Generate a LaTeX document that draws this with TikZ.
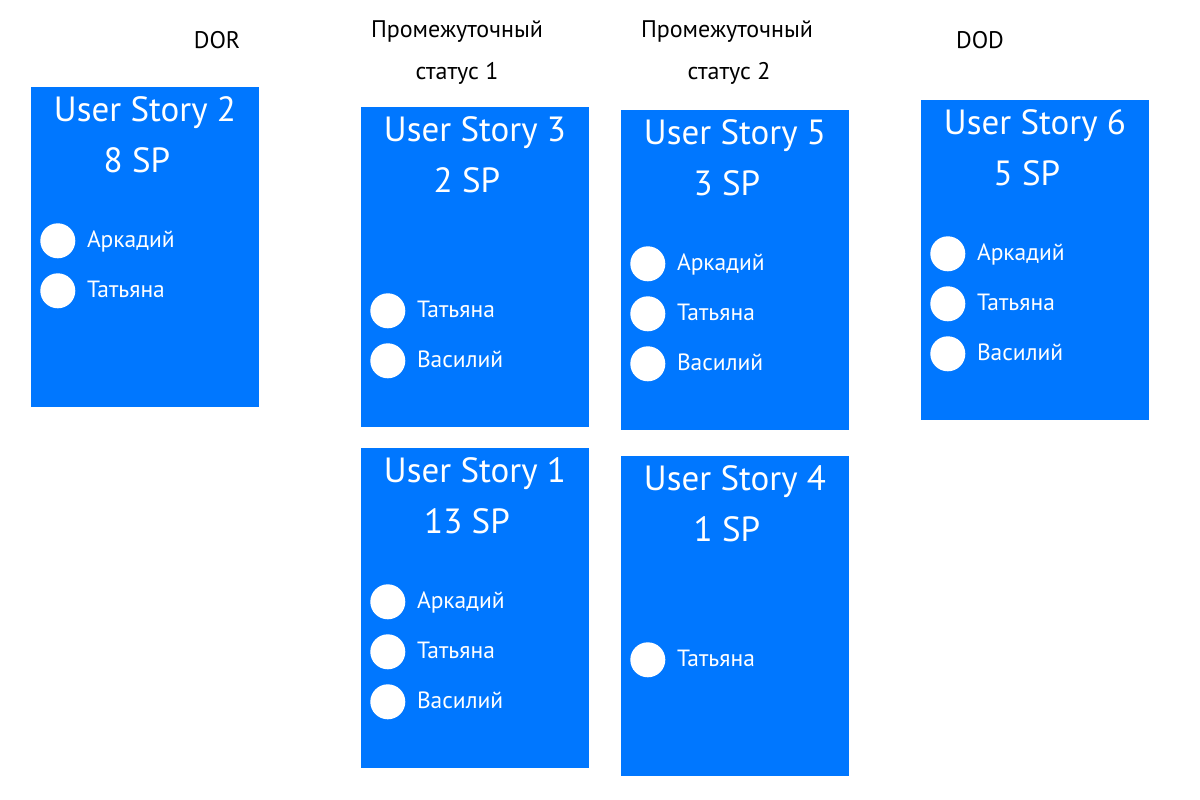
\documentclass[tikz,border=0pt]{standalone}
\usepackage{fontspec}
\setmainfont{PT Sans}
\definecolor{cardblue}{HTML}{0077FF}
\tikzset{
  card/.style={fill=cardblue, draw=none, inner sep=0pt, minimum width=228pt, minimum height=320pt},
  head/.style={anchor=base, font=\fontsize{24}{28}\selectfont},
  title/.style={anchor=base, text=white, font=\fontsize{35}{40}\selectfont},
  person/.style={circle, fill=white, inner sep=0pt, minimum size=35pt},
  pname/.style={anchor=base west, inner sep=0pt, text=white, font=\fontsize{23.5}{28}\selectfont}
}
\begin{document}
\begin{tikzpicture}[x=1pt,y=-1pt]
    \useasboundingbox (0,0) rectangle (1200,800);

    % column headers
    \node[head] (hdor) at (217,49) {DOR};
    \node[head] (hmida) at (457,38) {Промежуточный};
    \node[head] (hmidb) at (457,80) {статус 1};
    \node[head] (hmidc) at (727,38) {Промежуточный};
    \node[head] (hmidd) at (729,80) {статус 2};
    \node[head] (hdod) at (980,49) {DOD};

    % cards
    \node[card] (us2) at (145,247) {};
    \node[card] (us3) at (475,267) {};
    \node[card] (us1) at (475,608) {};
    \node[card] (us5) at (735,270) {};
    \node[card] (us4) at (735,616) {};
    \node[card] (us6) at (1035,260) {};

    \foreach \c/\t/\sp in {us2/2/8,us3/3/2,us1/1/13,us5/5/3,us4/4/1,us6/6/5} {
        \node[title] (\c t) at ([yshift=-35pt]\c.north) {User Story \t};
        \node[title] (\c sp) at ([xshift=-8pt,yshift=-86pt]\c.north) {\sp{} SP};
    }

    % team members
    \foreach \c/\first/\names in {us2/154/{Аркадий,Татьяна},
                                  us3/204/{Татьяна,Василий},
                                  us1/154/{Аркадий,Татьяна,Василий},
                                  us5/154/{Аркадий,Татьяна,Василий},
                                  us4/204/{Татьяна},
                                  us6/154/{Аркадий,Татьяна,Василий}} {
        \foreach \n [count=\i] in \names {
            \node[person] (\c p\i) at ([xshift=27pt,yshift=-\first pt-50pt*\i+50pt]\c.north west) {};
            \node[pname] (\c n\i) at ([xshift=29pt,yshift=-7pt]\c p\i.center) {\n};
        }
    }
\end{tikzpicture}
\end{document}
